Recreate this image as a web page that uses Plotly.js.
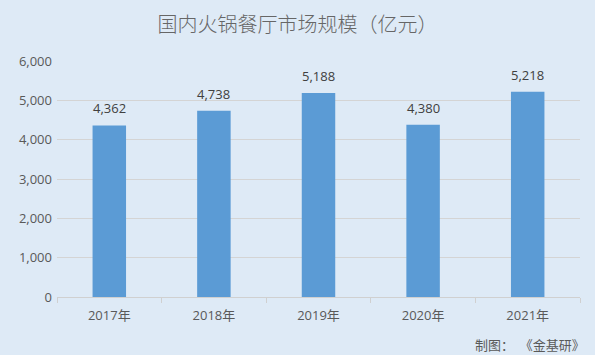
<!DOCTYPE html>
<html><head><meta charset="utf-8">
<script src="https://cdn.plot.ly/plotly-3.0.1.min.js"></script>
<style>body{margin:0;padding:0;background:#deeaf6;}</style>
</head><body>
<div id="chart" style="width:595px;height:355px;"></div>
<script>
const categories = ["2017年","2018年","2019年","2020年","2021年"];
const values = [4362, 4738, 5188, 4380, 5218];
const labels = ["4,362","4,738","5,188","4,380","5,218"];

const font = "'Open Sans','Noto Sans CJK SC',sans-serif";
const annotations = categories.map((c, i) => ({
  x: c, y: values[i], xref: "x", yref: "y", text: labels[i],
  showarrow: false, yanchor: "bottom", yshift: 6,
  font: {size: 13, color: "#404040", family: font}
}));
annotations.push({
  text: "制图：  《金基研》", xref: "paper", yref: "paper", x: 1.013, y: -0.203,
  xanchor: "right", yanchor: "middle", showarrow: false,
  font: {size: 13, color: "#595959", family: "'Noto Sans CJK SC',sans-serif"}
});
Plotly.newPlot("chart", [{
  type: "bar",
  x: categories,
  y: values,
  marker: {color: "#5b9bd5"},
  hoverinfo: "none"
}], {
  width: 595, height: 355,
  paper_bgcolor: "#deeaf6",
  plot_bgcolor: "#deeaf6",
  margin: {l: 57, r: 15, t: 61, b: 58},
  bargap: 0.68,
  showlegend: false,
  title: {text: "国内火锅餐厅市场规模（亿元）", x: 0.5, xanchor: "center", y: 0.93, yanchor: "middle",
    font: {size: 20, color: "#666666", family: "'Noto Sans CJK SC',sans-serif", weight: 300}},
  xaxis: {
    tickfont: {size: 13, color: "#595959", family: font},
    showline: true, linecolor: "#d0d0d0", linewidth: 1,
    ticks: "outside", tickson: "boundaries", ticklen: 5, tickcolor: "#d0d0d0",
    ticklabelstandoff: 6,
    showgrid: false, fixedrange: true
  },
  yaxis: {
    range: [0, 6000], dtick: 1000, tickformat: ",d",
    tickfont: {size: 13, color: "#595959", family: font},
    gridcolor: "#d4d4d4", gridwidth: 1, zeroline: false, showline: false,
    ticklabelstandoff: 4, fixedrange: true
  },
  annotations: annotations
}, {staticPlot: true});
</script>
</body></html>
